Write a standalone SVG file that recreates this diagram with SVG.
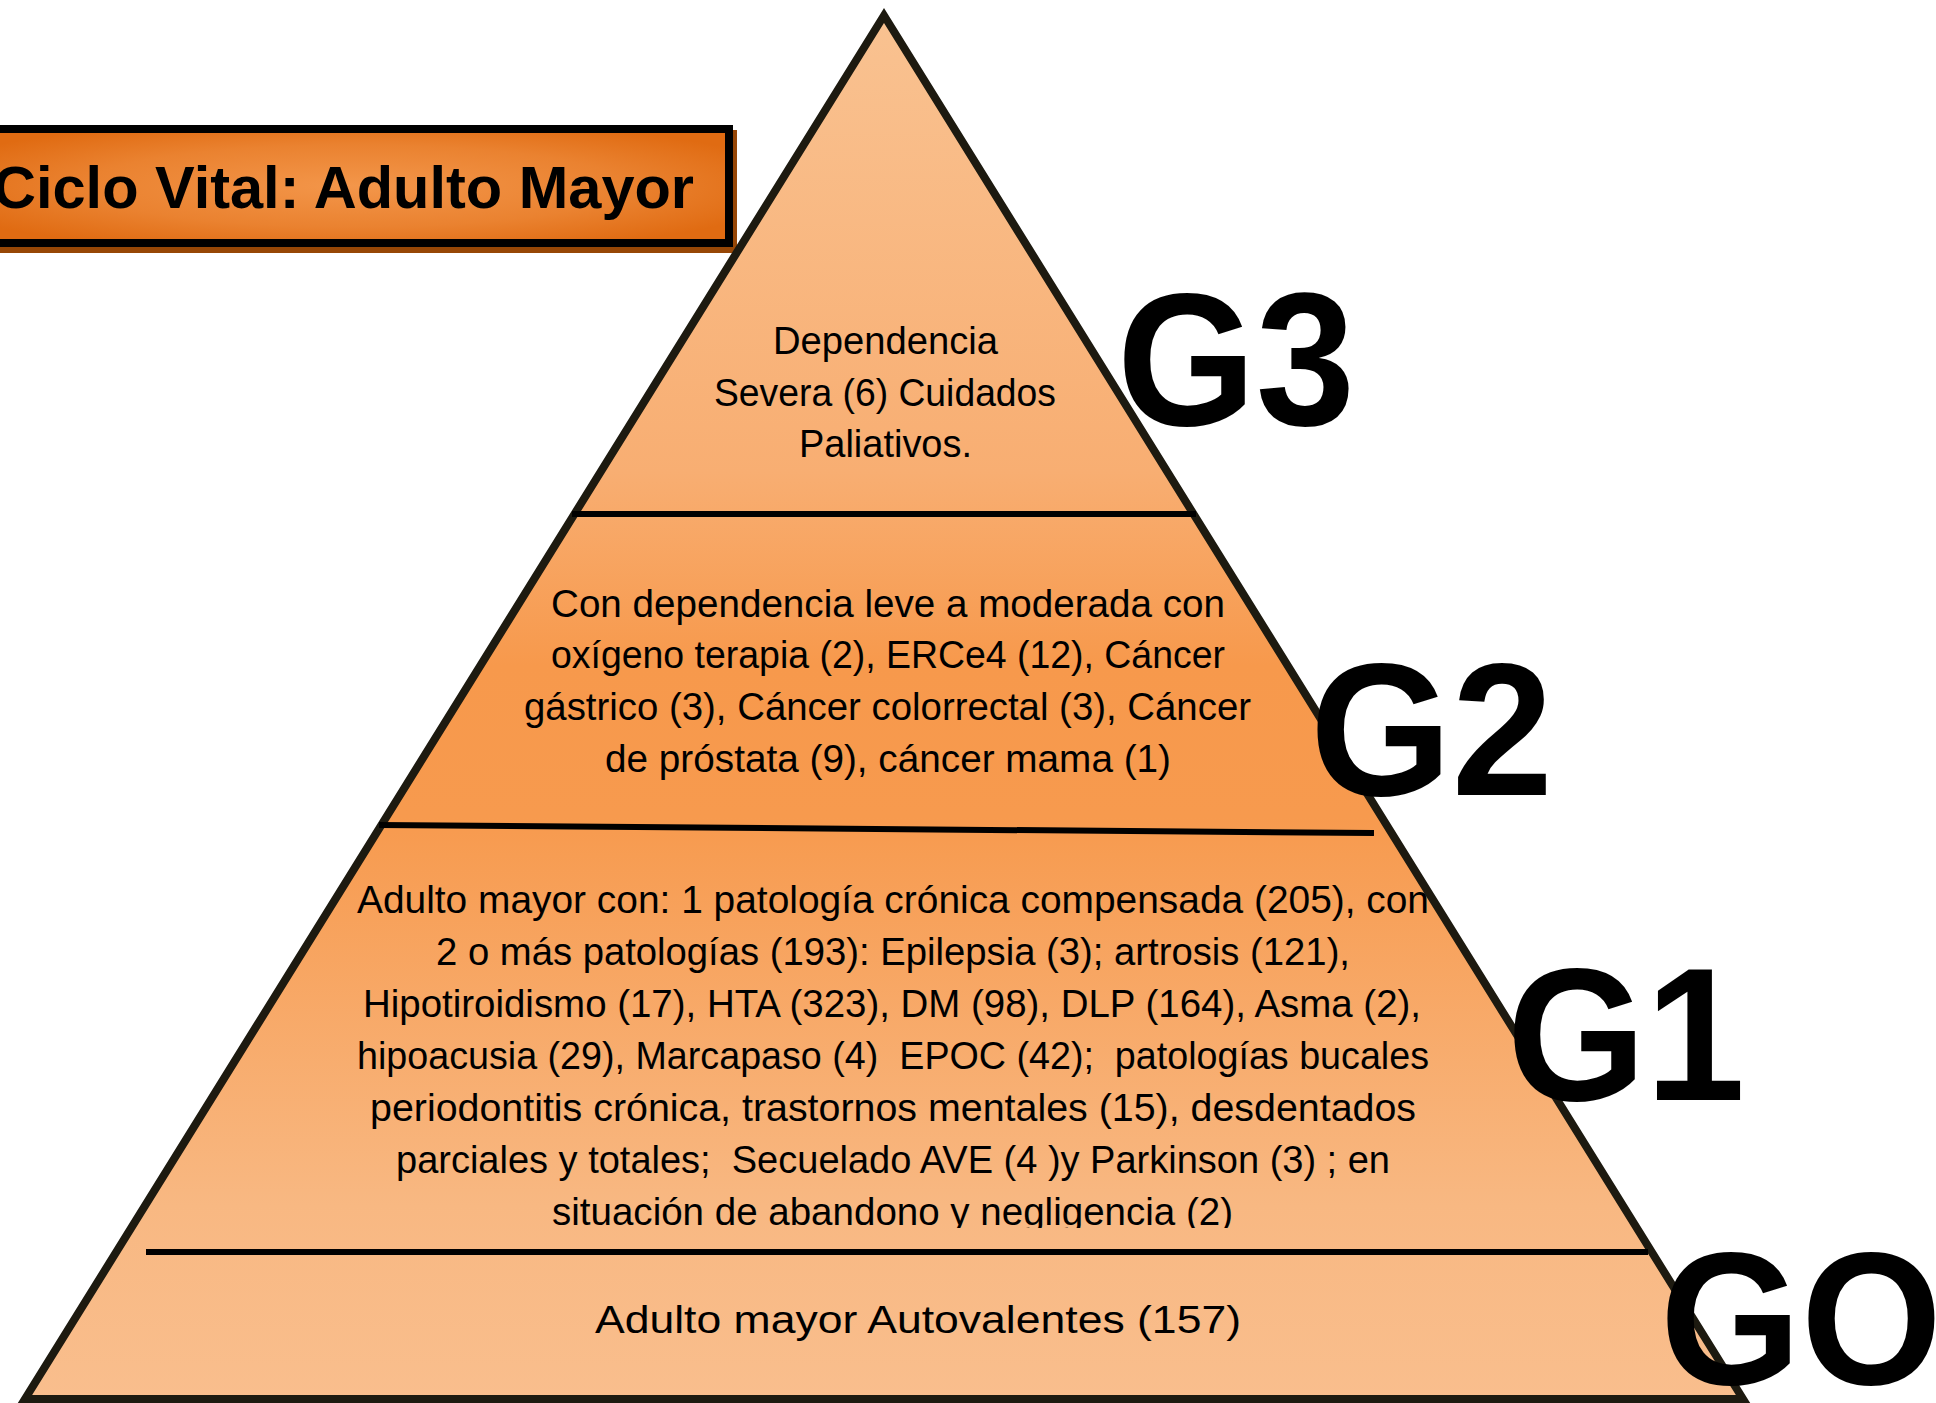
<svg xmlns="http://www.w3.org/2000/svg" width="1936" height="1403" viewBox="0 0 1936 1403">
  <defs>
    <linearGradient id="pyrFill" gradientUnits="userSpaceOnUse" x1="0" y1="15" x2="0" y2="1399">
      <stop offset="0" stop-color="#F9C291"/>
      <stop offset="0.33" stop-color="#F8AE72"/>
      <stop offset="0.47" stop-color="#F7994C"/>
      <stop offset="0.58" stop-color="#F79A4E"/>
      <stop offset="0.86" stop-color="#F8B882"/>
      <stop offset="1" stop-color="#F9BE8D"/>
    </linearGradient>
    <radialGradient id="titleFill" cx="0.5" cy="0.5" r="0.6">
      <stop offset="0" stop-color="#F3964A"/>
      <stop offset="0.6" stop-color="#EA8230"/>
      <stop offset="1" stop-color="#E06B12"/>
    </radialGradient>
    <clipPath id="g1clip">
      <rect x="0" y="860" width="1936" height="368"/>
    </clipPath>
  </defs>
  <style>
    .body { font-family: "Liberation Sans", Arial, sans-serif; font-size: 38px; fill: #000; white-space: pre; }
    .big { font-family: "Liberation Sans", Arial, sans-serif; font-weight: bold; font-size: 190px; fill: #000; }
    .divider { stroke: #000; stroke-width: 6; fill: none; }
  </style>

  <g id="title">
    <rect x="-20" y="130" width="757" height="123" fill="#974706"/>
    <rect x="-20" y="129" width="749" height="114" fill="url(#titleFill)" stroke="#000" stroke-width="8"/>
    <text x="-7" y="208" font-family="'Liberation Sans', Arial, sans-serif" font-weight="bold" font-size="60" textLength="701" lengthAdjust="spacingAndGlyphs">Ciclo Vital: Adulto Mayor</text>
  </g>

  <g id="pyramid">
    <polygon points="884,15.5 25,1399 1743,1399" fill="url(#pyrFill)" stroke="#1D1A10" stroke-width="8" stroke-linejoin="miter"/>
  </g>

  <g id="connectors">
    <line class="divider" x1="572" y1="514" x2="1196" y2="514"/>
    <line class="divider" x1="379" y1="825" x2="1374" y2="833"/>
    <line class="divider" x1="146" y1="1252" x2="1648" y2="1252"/>
  </g>

  <g id="node-g3">
    <text class="body" x="773" y="354" textLength="225" lengthAdjust="spacingAndGlyphs">Dependencia</text>
    <text class="body" x="714" y="406" textLength="342" lengthAdjust="spacingAndGlyphs">Severa (6) Cuidados</text>
    <text class="body" x="799" y="457" textLength="173" lengthAdjust="spacingAndGlyphs">Paliativos.</text>
  </g>

  <g id="node-g2">
    <text class="body" x="551" y="617" textLength="674" lengthAdjust="spacingAndGlyphs">Con dependencia leve a moderada con</text>
    <text class="body" x="551" y="668" textLength="674" lengthAdjust="spacingAndGlyphs">oxígeno terapia (2), ERCe4 (12), Cáncer</text>
    <text class="body" x="524" y="720" textLength="727" lengthAdjust="spacingAndGlyphs">gástrico (3), Cáncer colorrectal (3), Cáncer</text>
    <text class="body" x="605" y="772" textLength="566" lengthAdjust="spacingAndGlyphs">de próstata (9), cáncer mama (1)</text>
  </g>

  <g id="node-g1" clip-path="url(#g1clip)">
    <text class="body" x="357" y="913" textLength="1072" lengthAdjust="spacingAndGlyphs">Adulto mayor con: 1 patología crónica compensada (205), con</text>
    <text class="body" x="436" y="965" textLength="914" lengthAdjust="spacingAndGlyphs">2 o más patologías (193): Epilepsia (3); artrosis (121),</text>
    <text class="body" x="363" y="1017" textLength="1058" lengthAdjust="spacingAndGlyphs">Hipotiroidismo (17), HTA (323), DM (98), DLP (164), Asma (2),</text>
    <text class="body" x="357" y="1069" textLength="1072" lengthAdjust="spacingAndGlyphs">hipoacusia (29), Marcapaso (4)  EPOC (42);  patologías bucales</text>
    <text class="body" x="370" y="1121" textLength="1046" lengthAdjust="spacingAndGlyphs">periodontitis crónica, trastornos mentales (15), desdentados</text>
    <text class="body" x="396" y="1173" textLength="994" lengthAdjust="spacingAndGlyphs">parciales y totales;  Secuelado AVE (4 )y Parkinson (3) ; en</text>
    <text class="body" x="552" y="1225" textLength="681" lengthAdjust="spacingAndGlyphs">situación de abandono y negligencia (2)</text>
  </g>

  <g id="node-g0">
    <text class="body" x="595" y="1333" textLength="646" lengthAdjust="spacingAndGlyphs">Adulto mayor Autovalentes (157)</text>
  </g>

  <g id="labels">
    <text id="label-g3" class="big" x="1117" y="425" textLength="238" lengthAdjust="spacingAndGlyphs">G3</text>
    <text id="label-g2" class="big" x="1310" y="795" textLength="243" lengthAdjust="spacingAndGlyphs">G2</text>
    <text id="label-g1" class="big" x="1507" y="1100" textLength="238" lengthAdjust="spacingAndGlyphs">G1</text>
    <text id="label-g0" class="big" x="1660" y="1384" textLength="282" lengthAdjust="spacingAndGlyphs">GO</text>
  </g>
</svg>
